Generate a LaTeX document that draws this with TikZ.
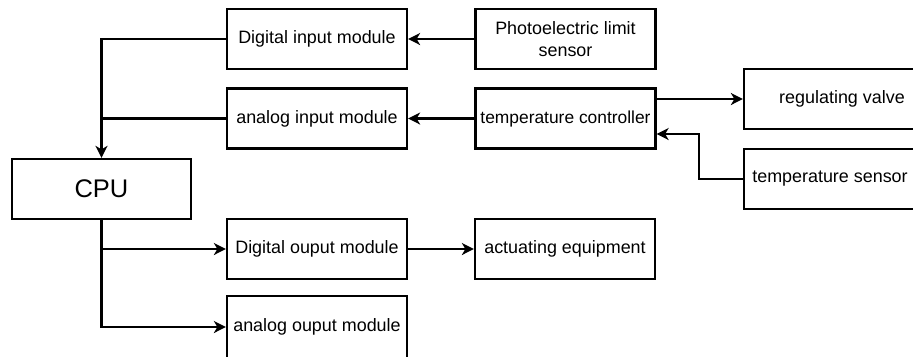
\documentclass[tikz,border=0pt]{standalone}
\usepackage{fontspec}
\setmainfont{Liberation Sans}
\usetikzlibrary{arrows.meta, positioning, calc}
\tikzstyle{module} = [rectangle, minimum width=3.6cm, minimum height=1.2cm, inner sep=0pt, text centered, draw=black, line width=1.3pt, font=\fontsize{10.2}{12.4}\selectfont]
\tikzstyle{cpubox} = [module, minimum width=3.58cm, font=\fontsize{14.5}{17}\selectfont]
\tikzstyle{arrow} = [line width=1.3pt, -{Stealth[length=2.4mm, width=2.4mm, inset=0.7mm]}]
\tikzstyle{line} = [line width=1.3pt]

\begin{document}
\begin{tikzpicture}[x=0.02cm, y=-0.02cm]
        \useasboundingbox (0,0) rectangle (913,356);
        \clip (0,0) rectangle (913,356);

        % Modulos de la CPU
        \node (cpu) [cpubox] at (101.5,189) {CPU};
        \node (dim) [module] at (317,39) {Digital input module};
        \node (aim) [module] at (317,118.5) {analog input module};
        \node (dom) [module] at (317,249) {Digital ouput module};
        \node (aom) [module, minimum height=1.24cm] at (317,327) {analog ouput module};

        % Equipos de campo
        \node (pls) [module, align=center] at (565.5,39) {Photoelectric limit\\sensor};
        \node (tc) [module, font=\fontsize{9.9}{12}\selectfont] at (565.5,118.5) {temperature controller};
        \node (ae) [module] at (565,249) {actuating equipment};
        \node (rv) [module, minimum width=3.92cm] at (842,99) {regulating valve};
        \node (ts) [module, minimum width=3.44cm] at (830,179) {temperature sensor};

        % Entradas
        \draw [arrow] (pls) -- (dim);
        \draw [arrow] (tc) -- (aim);
        \draw [arrow] (dim.west) -| (cpu.north);
        \draw [line] (aim.west) -- (cpu.north |- aim.west);

        % Lazo de temperatura
        \draw [arrow] (tc.east |- rv.west) -- (rv.west);
        \coordinate (tcin) at ([yshift=-0.31cm]tc.east);
        \draw [arrow] (ts.west) -- ++(-44,0) |- (tcin);

        % Salidas
        \draw [arrow] (cpu.south) |- (aom.west);
        \draw [arrow] (cpu.south |- dom.west) -- (dom.west);
        \draw [arrow] (dom) -- (ae);

\end{tikzpicture}
\end{document}
